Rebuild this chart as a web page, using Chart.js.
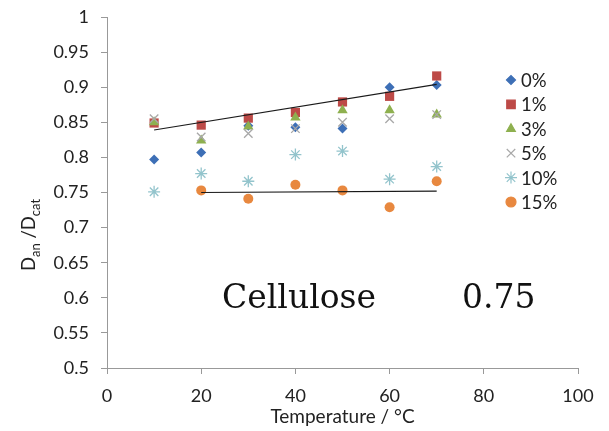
<!DOCTYPE html>
<html>
<head>
<meta charset="utf-8">
<script src="https://cdn.jsdelivr.net/npm/chart.js@4/dist/chart.umd.min.js"></script>
<style>
  html, body { margin: 0; padding: 0; background: #fff; }
  #wrap { width: 609px; height: 431px; position: relative; }
</style>
</head>
<body>
<div id="wrap"><canvas id="chart" width="609" height="431"></canvas></div>
<script>
// temperatures (°C)
var temps = [10, 20, 30, 40, 50, 60, 70];
var seriesNames = ["0%", "1%", "3%", "5%", "10%", "15%"];
// D_an / D_cat
var v0 = [0.797, 0.807, 0.845, 0.843, 0.841, 0.900, 0.903];
var v1 = [0.849, 0.846, 0.856, 0.864, 0.879, 0.887, 0.916];
var v3 = [0.850, 0.824, 0.844, 0.857, 0.867, 0.867, 0.861];
var v5 = [0.855, 0.829, 0.834, 0.841, 0.850, 0.855, 0.861];
var v10 = [0.751, 0.777, 0.766, 0.804, 0.809, 0.769, 0.787];
var v15 = [null, 0.753, 0.741, 0.761, 0.753, 0.729, 0.766];
// trend lines
var trendUpX = [10, 70];
var trendUpY = [0.839, 0.904];
var trendLowX = [20, 70];
var trendLowY = [0.750, 0.752];

var styles = [
  { pointStyle: "rectRot", color: "#3d6fb6", radius: 5, legendRadius: 4.5 },
  { pointStyle: "rect", color: "#bd4a47", radius: 6.5, legendRadius: 6 },
  { pointStyle: "triangle", color: "#8eb04f", radius: 6, legendRadius: 5 },
  { pointStyle: "crossRot", color: "#a8a8a8", radius: 6, legendRadius: 6 },
  { pointStyle: "star", color: "#93c4cc", radius: 6, legendRadius: 6 },
  { pointStyle: "circle", color: "#e8883f", radius: 5, legendRadius: 5 }
];

function pts(xs, ys) {
  var out = [];
  for (var i = 0; i < xs.length; i++) {
    if (ys[i] !== null) out.push({ x: xs[i], y: ys[i] });
  }
  return out;
}

var allValues = [v0, v1, v3, v5, v10, v15];
var datasets = [];
for (var i = 0; i < allValues.length; i++) {
  var s = styles[i];
  var open = s.pointStyle == "crossRot" || s.pointStyle == "star";
  datasets.push({
    label: seriesNames[i],
    data: pts(temps, allValues[i]),
    pointStyle: s.pointStyle,
    pointRadius: s.radius,
    pointBackgroundColor: s.color,
    pointBorderColor: s.color,
    pointBorderWidth: open ? 1.3 : 0,
    order: 10 - i
  });
}
datasets.push({
  type: "line", label: "trend1", data: pts(trendUpX, trendUpY),
  borderColor: "#1a1a1a", borderWidth: 1.2, pointRadius: 0, showLine: true, order: 0
});
datasets.push({
  type: "line", label: "trend2", data: pts(trendLowX, trendLowY),
  borderColor: "#1a1a1a", borderWidth: 1.2, pointRadius: 0, showLine: true, order: 0
});

var tickFont = { family: "Lato", size: 18 };

var extras = {
  id: "extras",
  afterDraw: function (chart) {
    var ctx = chart.ctx;
    // legend
    ctx.save();
    for (var i = 0; i < seriesNames.length; i++) {
      var s = styles[i];
      var y = 80 + i * 24.4;
      ctx.fillStyle = s.color;
      ctx.strokeStyle = s.color;
      ctx.lineWidth = 1.2;
      Chart.helpers.drawPoint(ctx, { pointStyle: s.pointStyle, radius: s.legendRadius, rotation: 0, borderWidth: 1.2 }, 511, y);
      ctx.fillStyle = "#222";
      ctx.font = "18.5px Lato";
      ctx.textBaseline = "middle";
      ctx.textAlign = "left";
      ctx.fillText(seriesNames[i], 521, y + 1);
    }
    ctx.restore();

    // annotation
    ctx.save();
    ctx.fillStyle = "#111";
    ctx.font = "33px 'DejaVu Serif'";
    ctx.textBaseline = "alphabetic";
    ctx.textAlign = "left";
    ctx.fillText("Cellulose", 222, 308);
    ctx.fillText("0.75", 462, 308);
    ctx.restore();

    // y axis title with subscripts
    ctx.save();
    ctx.translate(35, 235);
    ctx.rotate(-Math.PI / 2);
    ctx.fillStyle = "#222";
    ctx.textBaseline = "alphabetic";
    ctx.textAlign = "left";
    var parts = [["D", 18.5, 0], ["an", 13, 5], [" /D", 18.5, 0], ["cat", 13, 5]];
    var total = 0;
    for (var j = 0; j < parts.length; j++) {
      ctx.font = parts[j][1] + "px Lato";
      total += ctx.measureText(parts[j][0]).width;
    }
    var x = -total / 2;
    for (var j = 0; j < parts.length; j++) {
      ctx.font = parts[j][1] + "px Lato";
      ctx.fillText(parts[j][0], x, parts[j][2]);
      x += ctx.measureText(parts[j][0]).width;
    }
    ctx.restore();
  }
};

new Chart("chart", {
  type: "scatter",
  data: { datasets: datasets },
  options: {
    responsive: false,
    animation: false,
    layout: { padding: { left: 0, right: 31, top: 17, bottom: 0 } },
    plugins: {
      legend: { display: false },
      tooltip: { enabled: false }
    },
    scales: {
      x: {
        type: "linear",
        min: 0,
        max: 100,
        ticks: { stepSize: 20, font: tickFont, color: "#222", padding: 11 },
        grid: { drawOnChartArea: false, tickLength: 6, color: "#999" },
        border: { color: "#999" },
        title: { display: true, text: "Temperature / \u00B0C", font: { family: "Lato", size: 19 }, color: "#222", padding: { top: 0, bottom: 3 } },
        afterFit: function (scale) { scale.height = 63; }
      },
      y: {
        min: 0.5,
        max: 1,
        ticks: {
          stepSize: 0.05, font: tickFont, color: "#222", padding: 12,
          callback: function (v) { return String(Number(v.toFixed(2))); }
        },
        grid: { drawOnChartArea: false, tickLength: 6, color: "#999" },
        border: { color: "#999" },
        afterFit: function (scale) {
          scale.width = 107;
          scale.paddingTop = 0;
          scale.paddingBottom = 0;
        }
      }
    }
  },
  plugins: [extras]
});
</script>
</body>
</html>
